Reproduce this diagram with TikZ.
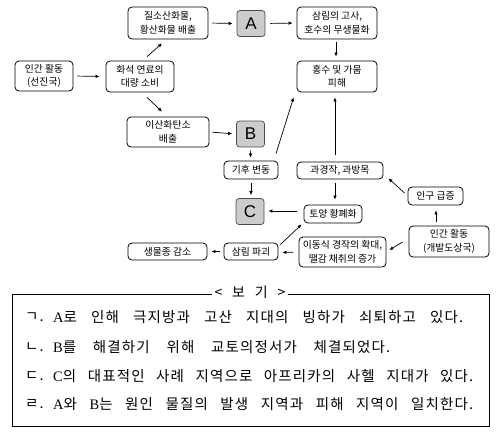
\documentclass[tikz,border=0pt]{standalone}
\usepackage{fontspec}
\setmainfont{Noto Sans CJK KR}
\newfontfamily\kr{Noto Sans CJK KR}
\newfontfamily\krw[LetterSpace=8]{Noto Sans CJK KR}
\newfontfamily\ser{Liberation Serif}
\newfontfamily\lsans{Liberation Sans}
\usetikzlibrary{arrows.meta}
\tikzset{
  bx/.style={draw=black, line width=0.8pt, rounded corners=4pt, align=center, inner sep=0pt,
    font=\kr\fontsize{9.8}{13.5}\selectfont},
  lt/.style={draw=black!70, line width=0.7pt, rounded corners=3pt, fill=black!20, inner sep=0pt,
    minimum width=28pt, minimum height=26pt, font=\lsans\fontsize{17}{17}\selectfont},
  arr/.style={-{Latex[length=4pt,width=3.6pt]}, line width=0.7pt},
  bt/.style={anchor=west, inner sep=0pt, font=\krw\fontsize{14.5}{16}\selectfont}
}
\begin{document}
\begin{tikzpicture}[x=1pt,y=-1pt]
\useasboundingbox (0,0) rectangle (503,437);
% boxes
\node[bx, minimum width=58pt, minimum height=30pt] (h1) at (44,76) {인간 활동\\(선진국)};
\node[bx, minimum width=68pt, minimum height=31pt] (f) at (140,76.5) {화석 연료의\\대량 소비};
\node[bx, minimum width=80pt, minimum height=32pt] (n) at (168,23) {질소산화물,\\황산화물 배출};
\node[bx, minimum width=82pt, minimum height=30pt] (c) at (168,132) {이산화탄소\\배출};
\node[lt] (A) at (251,23.5) {A};
\node[lt] (B) at (250.5,134) {B};
\node[bx, minimum width=80pt, minimum height=32pt] (s) at (337,23) {삼림의 고사,\\호수의 무생물화};
\node[bx, minimum width=80pt, minimum height=31pt] (fl) at (337,76.5) {홍수 및 가뭄\\피해};
\node[bx, minimum width=54pt, minimum height=18pt] (cl) at (251,170) {기후 변동};
\node[bx, minimum width=86pt, minimum height=17pt] (ov) at (340,170.5) {과경작, 과방목};
\node[lt] (C) at (250,211.5) {C};
\node[bx, minimum width=58pt, minimum height=18pt] (so) at (333,214) {토양 황폐화};
\node[bx, minimum width=55pt, minimum height=18pt] (pop) at (435.5,196) {인구 급증};
\node[bx, minimum width=80pt, minimum height=31pt] (h2) at (449,241.5) {인간 활동\\(개발도상국)};
\node[bx, minimum width=87pt, minimum height=30pt] (mv) at (342.5,252) {이동식 경작의 확대,\\땔감 채취의 증가};
\node[bx, minimum width=54pt, minimum height=17pt] (fd) at (251,251.5) {삼림 파괴};
\node[bx, minimum width=79pt, minimum height=17pt] (bio) at (167.5,251.5) {생물종 감소};
% arrows
\draw[arr, shorten <=4pt, shorten >=6pt] (h1.east) -- (f.west);
\draw[arr] ([xshift=7pt,yshift=4pt]f.north) -- ([xshift=-6pt,yshift=-4pt]n.south);
\draw[arr] ([xshift=7pt,yshift=-5pt]f.south) -- ([xshift=-6pt,yshift=5pt]c.north);
\draw[arr, shorten <=4pt, shorten >=4pt] (n.east) -- (A.west);
\draw[arr, shorten <=5pt, shorten >=4pt] (A.east) -- (s.west);
\draw[arr, shorten <=3pt, shorten >=4pt] ([xshift=-1pt]s.south) -- ([xshift=-1pt]fl.north);
\draw[arr, shorten <=3pt, shorten >=4pt] (c.east) -- (B.west);
\draw[arr, shorten <=3pt, shorten >=3pt] ([xshift=-0.5pt]B.south) -- (cl.north);
\draw[arr, shorten <=4pt, shorten >=3pt] (cl.south) -- ([xshift=1pt]C.north);
\draw[arr] ([xshift=25pt,yshift=7pt]cl.north) -- ([xshift=-3pt,yshift=-5pt]fl.south west);
\draw[arr, shorten >=5pt] ([xshift=-5pt,yshift=7pt]ov.north) -- ([xshift=-2pt]fl.south);
\draw[arr, shorten <=4pt, shorten >=5pt] ([xshift=-5pt]ov.south) -- ([xshift=2pt]so.north);
\draw[arr] ([xshift=-3pt,yshift=3pt]pop.west) -- ([xshift=5pt,yshift=1pt]ov.south east);
\draw[arr, shorten <=4pt, shorten >=5pt] ([xshift=-13pt]h2.north) -- ([xshift=0.5pt]pop.south);
\draw[arr] ([xshift=-6pt,yshift=-0.5pt]h2.west) -- ([xshift=3pt,yshift=2pt]mv.east);
\draw[arr, shorten <=7pt, shorten >=4pt] ([yshift=3pt]so.west) -- ([yshift=0.5pt]C.east);
\draw[arr, shorten <=5pt, shorten >=4pt] (mv.west) -- ([yshift=-1pt]fd.east);
\draw[arr] ([xshift=2pt,yshift=7pt]fd.east) -- ([xshift=-2pt,yshift=-1pt]so.south west);
\draw[arr, shorten <=4pt, shorten >=4pt] (fd.west) -- (bio.east);
% bottom box
\draw[line width=0.8pt] (12,294) rectangle (489,426);
\node[fill=white, inner sep=3pt, font=\fontsize{14}{15}\selectfont] (title) at (250,292) {<\hspace{0.7em}보\hspace{0.7em}기\hspace{0.7em}>};
\node[bt] (k1) at (25,317) {ㄱ.};
\node[bt] (k2) at (25,347) {ㄴ.};
\node[bt] (k3) at (25,376) {ㄷ.};
\node[bt] (k4) at (25,404) {ㄹ.};
\node[bt] (l1) at (53,317) {\makebox[410pt][s]{{\ser A}로 인해 극지방과 고산 지대의 빙하가 쇠퇴하고 있다.}};
\node[bt] (l2) at (53,347) {\makebox[337pt][s]{{\ser B}를 해결하기 위해 교토의정서가 체결되었다.}};
\node[bt] (l3) at (53,376) {\makebox[420pt][s]{{\ser C}의 대표적인 사례 지역으로 아프리카의 사헬 지대가 있다.}};
\node[bt] (l4) at (53,404) {\makebox[420pt][s]{{\ser A}와 {\ser B}는 원인 물질의 발생 지역과 피해 지역이 일치한다.}};
\end{tikzpicture}
\end{document}
